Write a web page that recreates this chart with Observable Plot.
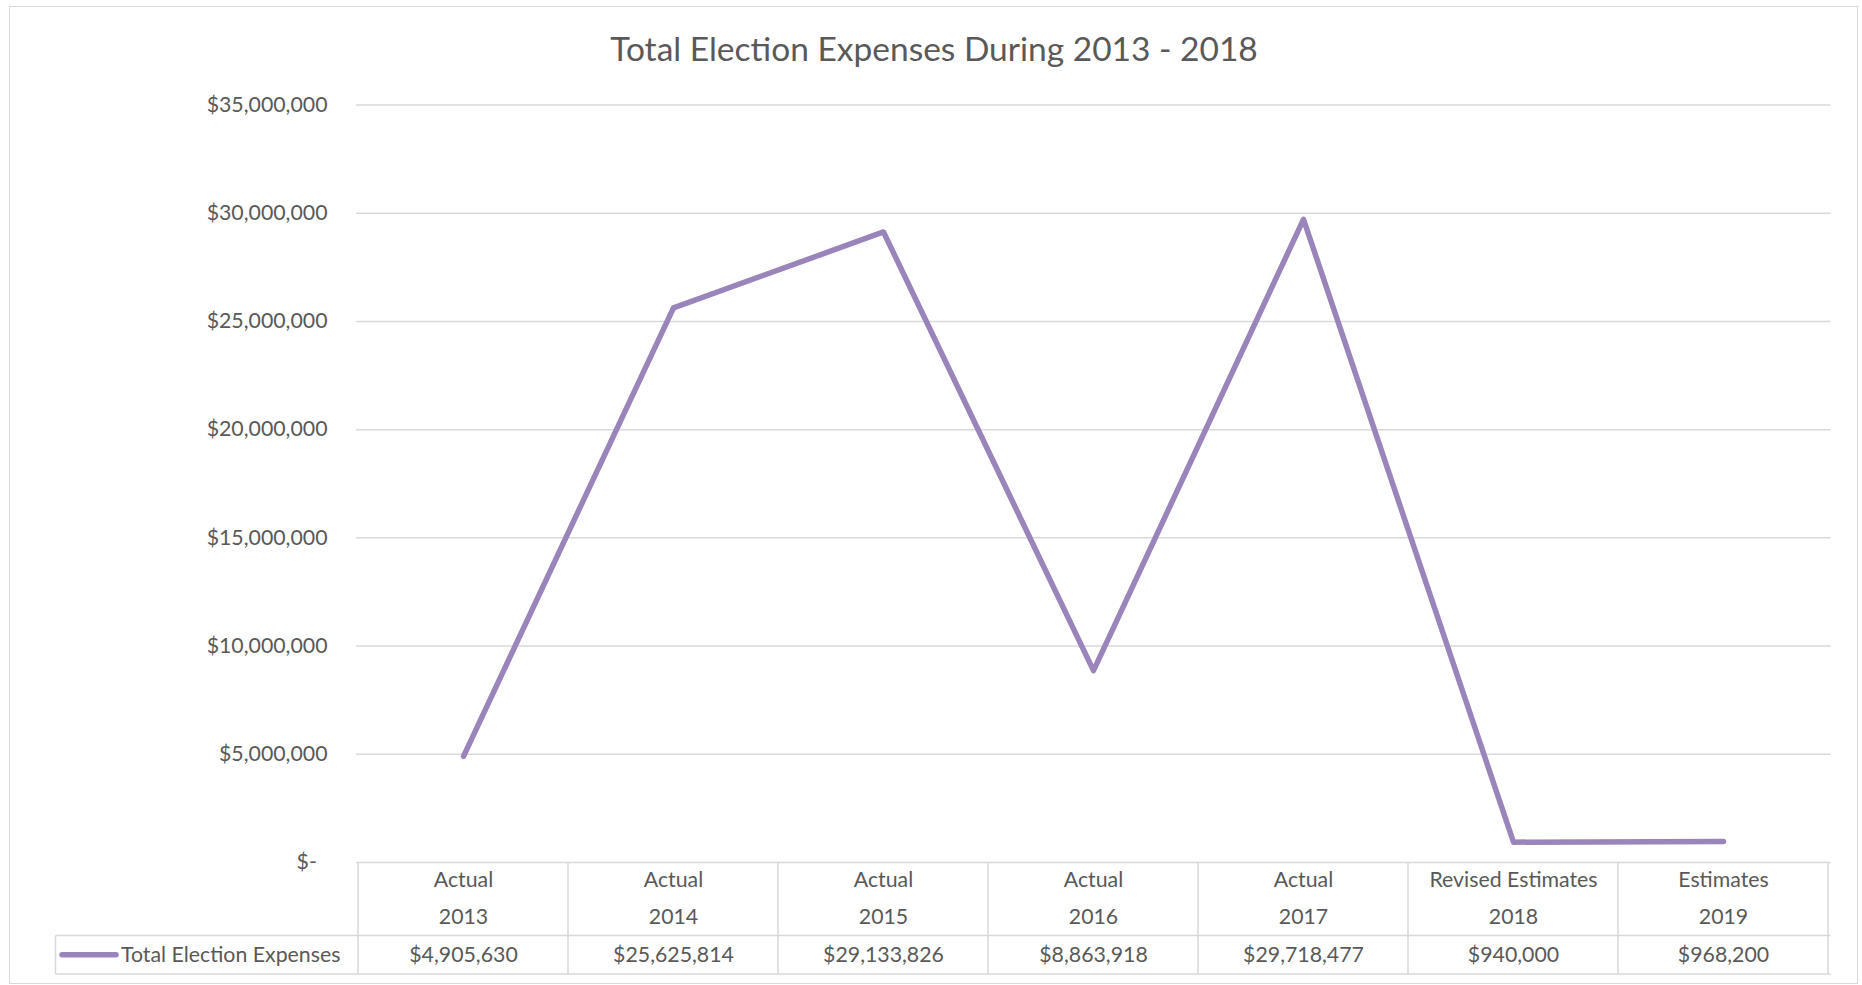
<!DOCTYPE html>
<html>
<head>
<meta charset="utf-8">
<script src="https://cdn.jsdelivr.net/npm/d3@7"></script>
<script src="https://cdn.jsdelivr.net/npm/@observablehq/plot@0.6"></script>
<style>
  html, body { margin: 0; padding: 0; background: #fff; }
  #wrap { position: relative; width: 1862px; height: 985px; overflow: hidden; font-family: Lato, "Open Sans", sans-serif; }
  #border { position: absolute; left: 9px; top: 6px; width: 1849px; height: 978px; border: 1px solid #d9d9d9; box-sizing: border-box; }
  #title { position: absolute; left: 10px; top: 28px; width: 1848px; text-align: center; font-size: 33.5px; line-height: 40px; color: #595959; }
  #chart { position: absolute; left: 0; top: 0; }
</style>
</head>
<body>
<div id="wrap">
  <div id="border"></div>
  <div id="title"></div>
  <div id="chart"></div>
</div>
<script>
const chartTitle = "Total Election Expenses During 2013 - 2018";
const seriesName = "Total Election Expenses";
const headerLabels = ["Actual", "Actual", "Actual", "Actual", "Actual", "Revised Estimates", "Estimates"];
const years = ["2013", "2014", "2015", "2016", "2017", "2018", "2019"];
const values = [4905630, 25625814, 29133826, 8863918, 29718477, 940000, 968200];
const yTicks = [0, 5000000, 10000000, 15000000, 20000000, 25000000, 30000000, 35000000];

const data = years.map((y, i) => ({year: y, label: headerLabels[i], value: values[i]}));

const textColor = "#595959";
const gridColor = "#d9d9d9";
const lineColor = "#9a85bb";
const fontSize = 21.3;
const fmtMoney = d3.format("$,");

document.getElementById("title").textContent = chartTitle;

function tableMark(index, scales, vals, dims) {
  const x = scales.x, y = scales.y;
  const bw = x.bandwidth ? x.bandwidth() : (x(years[1]) - x(years[0]));
  const right = dims.width - dims.marginRight;
  const y0 = y(0);
  const yMid = y0 + 73.5, yBot = y0 + 112;
  const legendLeft = 55.5;
  const g = d3.create("svg:g");
  const ln = (x1, y1, x2, y2) => g.append("line")
    .attr("x1", x1).attr("y1", y1).attr("x2", x2).attr("y2", y2)
    .attr("stroke", gridColor).attr("stroke-width", 1.5);
  // vertical dividers at band edges
  years.forEach(c => ln(x(c), y0, x(c), yBot));
  ln(x(years[years.length - 1]) + bw, y0, x(years[years.length - 1]) + bw, yBot);
  // legend cell left edge
  ln(legendLeft, yMid, legendLeft, yBot);
  // horizontal lines
  ln(legendLeft, yMid, right, yMid);
  ln(legendLeft, yBot, right, yBot);
  // legend key
  const ly = (yMid + yBot) / 2;
  g.append("line").attr("x1", 62).attr("x2", 116).attr("y1", ly).attr("y2", ly)
    .attr("stroke", lineColor).attr("stroke-width", 5.5).attr("stroke-linecap", "round");
  g.append("text").attr("x", 121).attr("y", ly).attr("dy", "0.34em")
    .attr("text-anchor", "start")
    .attr("fill", textColor).attr("font-size", fontSize).text(seriesName);
  return g.node();
}

const chart = Plot.plot({
  width: 1862,
  height: 985,
  marginLeft: 356,
  marginRight: 31.5,
  marginTop: 104.5,
  marginBottom: 123,
  style: {fontFamily: "Lato, 'Open Sans', sans-serif", fontSize: fontSize + "px", color: textColor, background: "transparent", overflow: "visible"},
  x: {type: "band", domain: years, padding: 0, axis: null},
  y: {domain: [0, 35000000], axis: null},
  marks: [
    Plot.ruleY(yTicks, {stroke: gridColor, strokeWidth: 1.5}),
    Plot.axisY(yTicks, {
      tickSize: 0, tickPadding: 29, fontSize: fontSize, fill: textColor,
      tickFormat: d => d === 0 ? "$-\u2002" : fmtMoney(d), label: null
    }),
    Plot.line(data, {x: "year", y: "value", stroke: lineColor, strokeWidth: 5.5, strokeLinejoin: "round", strokeLinecap: "round"}),
    Plot.text(data, {x: "year", text: "label", frameAnchor: "bottom", lineAnchor: "middle", dy: 18, fill: textColor, fontSize: fontSize}),
    Plot.text(data, {x: "year", text: "year", frameAnchor: "bottom", lineAnchor: "middle", dy: 55, fill: textColor, fontSize: fontSize}),
    Plot.text(data, {x: "year", text: d => fmtMoney(d.value), frameAnchor: "bottom", lineAnchor: "middle", dy: 93, fill: textColor, fontSize: fontSize}),
    tableMark
  ]
});
document.getElementById("chart").appendChild(chart);
</script>
</body>
</html>
